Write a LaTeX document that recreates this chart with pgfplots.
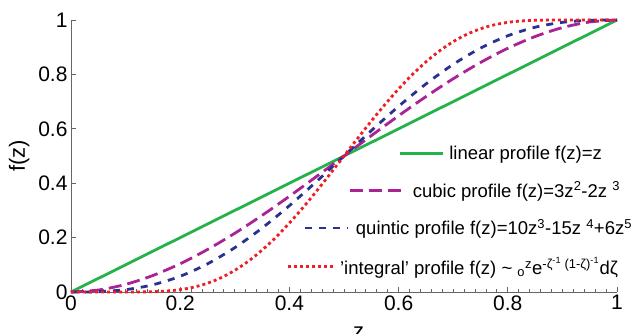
\documentclass[border=0pt]{standalone}
\usepackage{pgfplots}
\pgfplotsset{compat=1.18}
\usepackage{fontspec}
\setmainfont{Liberation Sans}
\definecolor{cgreen}{RGB}{38,178,74}
\definecolor{cmag}{RGB}{170,35,150}
\definecolor{cblue}{RGB}{40,50,145}
\definecolor{cred}{RGB}{238,30,36}
\pgfplotsset{myleg/.style 2 args={legend image code/.code={\path (0pt,0pt) (45pt,0pt); \draw[##1,overlay] (#1,0pt) -- (#2,0pt);}}}
\begin{document}
\begin{tikzpicture}
\begin{axis}[
  name=ax,
  scale only axis,
  width=546pt, height=272pt,
  xmin=0, xmax=1, ymin=0, ymax=1,
  axis lines*=left,
  axis line style={draw=black!60, line width=0.8pt},
  tick style={draw=black!60, line width=0.8pt},
  tick align=inside,
  major tick length=5pt,
  minor tick length=3pt,
  xtick={0,0.2,0.4,0.6,0.8,1},
  ytick={0,0.2,0.4,0.6,0.8,1},
  minor x tick num=9,
  /pgf/number format/assume math mode=true,
  ticklabel style={font=\fontsize{21}{24}\selectfont},
  xlabel={z}, ylabel={f(z)},
  every axis x label/.style={at={(axis description cs:0.527,-0.129)}, anchor=north, inner sep=0pt, font=\fontsize{22}{25}\selectfont},
  every axis y label/.style={at={(axis description cs:-0.095,0.5)}, anchor=center, rotate=90, font=\fontsize{22}{25}\selectfont},
  clip=false,
  legend style={draw=none, fill=none, at={(1.0315,0.545)}, anchor=north east,
    font=\fontsize{18.5}{22}\selectfont, row sep=17pt, inner sep=0pt},
  legend cell align=right,
]
\addplot[cgreen, line width=2.8pt, myleg={108pt}{151pt}]
  coordinates {(0,0) (1,1)};
\addlegendentry{linear profile f(z)=z\rule{30pt}{0pt}}
\addplot[cmag, line width=2.8pt, dash pattern=on 13pt off 6pt, smooth, myleg={58pt}{113pt}]
  coordinates {(0,0) (0.05,0.00725) (0.1,0.028) (0.15,0.06075) (0.2,0.104) (0.25,0.15625)
  (0.3,0.216) (0.35,0.28175) (0.4,0.352) (0.45,0.42525) (0.5,0.5) (0.55,0.57475)
  (0.6,0.648) (0.65,0.71825) (0.7,0.784) (0.75,0.84375) (0.8,0.896) (0.85,0.93925)
  (0.9,0.972) (0.95,0.99275) (1,1)};
\addlegendentry{cubic profile f(z)=3z\textsuperscript{2}-2z \textsuperscript{3}\rule{12pt}{0pt}}
\addplot[cblue, line width=2.8pt, dash pattern=on 7pt off 7pt, smooth, myleg={13pt}{56pt}]
  coordinates {(0,0) (0.05,0.00116) (0.1,0.00856) (0.15,0.02661) (0.2,0.05792) (0.25,0.10352)
  (0.3,0.16308) (0.35,0.23517) (0.4,0.31744) (0.45,0.40688) (0.5,0.5) (0.55,0.59312)
  (0.6,0.68256) (0.65,0.76483) (0.7,0.83692) (0.75,0.89648) (0.8,0.94208) (0.85,0.97339)
  (0.9,0.99144) (0.95,0.99884) (1,1)};
\addlegendentry{quintic profile f(z)=10z\textsuperscript{3}-15z \textsuperscript{4}+6z\textsuperscript{5}}
\addplot[cred, line width=2.8pt, dash pattern=on 3pt off 3pt, smooth, myleg={-4pt}{41pt}]
  coordinates {(0,0) (0.05,0) (0.075,0) (0.1,0.00003) (0.125,0.00025) (0.15,0.00113)
  (0.175,0.00358) (0.2,0.00875) (0.225,0.01793) (0.25,0.03227) (0.275,0.05265)
  (0.3,0.07964) (0.325,0.11348) (0.35,0.15404) (0.375,0.20091) (0.4,0.25342)
  (0.425,0.31069) (0.45,0.37167) (0.475,0.43519) (0.5,0.5) (0.525,0.56481)
  (0.55,0.62833) (0.575,0.68931) (0.6,0.74658) (0.625,0.79909) (0.65,0.84596)
  (0.675,0.88652) (0.7,0.92036) (0.725,0.94735) (0.75,0.96773) (0.775,0.98207)
  (0.8,0.99125) (0.825,0.99642) (0.85,0.99887) (0.875,0.99975) (0.9,0.99997)
  (0.95,1) (1,1)};
\addlegendentry{'integral' profile f(z) \textasciitilde\ \textsubscript{o}\textsuperscript{z}e\textsuperscript{-ζ\textsuperscript{-1} (1-ζ)\textsuperscript{-1}}dζ\rule{14pt}{0pt}}
\end{axis}
\pgfresetboundingbox
\path (ax.south west) ++(-71pt,-41pt) rectangle ++(636pt,333pt);
\end{tikzpicture}
\end{document}
